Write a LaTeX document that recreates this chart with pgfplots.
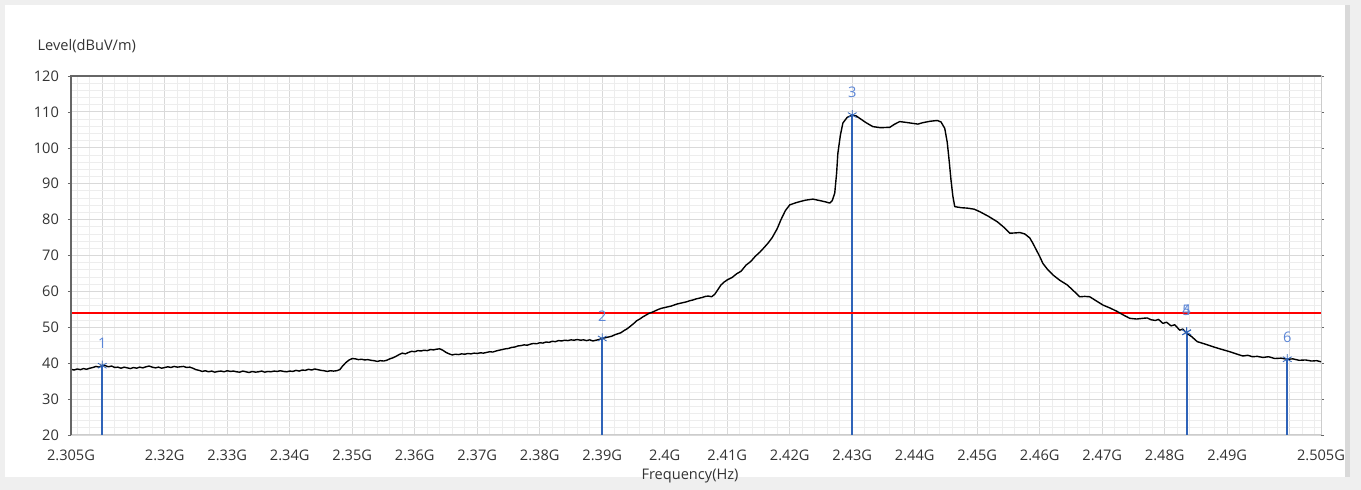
\documentclass[border=0pt]{standalone}
\usepackage{fontspec}
\setmainfont{Open Sans}
\usepackage{pgfplots}
\usepackage{pgfplotstable}
\pgfplotsset{compat=1.18}
\definecolor{mkline}{HTML}{2F63B8}
\definecolor{mklabel}{HTML}{5C86D6}
\definecolor{tickcol}{HTML}{333333}
\definecolor{gridmaj}{HTML}{D9D9D9}
\definecolor{gridmin}{HTML}{EDEDED}
\definecolor{framecol}{HTML}{EFEFEF}

% marker table: frequency (GHz), level (dBuV/m), marker number
\pgfplotstableread{
f lvl lab
2.3100 39.3 1
2.3900 46.9 2
2.4300 109.1 3
2.4835 48.6 4
2.4835 48.6 5
2.4996 41.1 6
}\markers

\pgfplotstableread{
f lvl
2.3050 38.3
2.3055 38.1
2.3060 38.4
2.3065 38.2
2.3070 38.5
2.3075 38.3
2.3080 38.6
2.3085 38.8
2.3090 39.1
2.3095 38.9
2.3100 39.4
2.3105 39.3
2.3110 39.0
2.3115 39.2
2.3120 38.8
2.3125 38.9
2.3130 38.6
2.3135 38.9
2.3140 38.7
2.3145 38.5
2.3150 38.8
2.3155 38.6
2.3160 38.9
2.3165 38.7
2.3170 39.0
2.3175 39.2
2.3180 38.9
2.3185 38.7
2.3190 38.9
2.3195 38.6
2.3200 38.8
2.3205 39.0
2.3210 38.8
2.3215 39.1
2.3220 38.9
2.3225 39.0
2.3230 39.1
2.3235 38.8
2.3240 38.9
2.3245 38.6
2.3250 38.2
2.3255 38.0
2.3260 37.7
2.3265 37.9
2.3270 37.6
2.3275 37.8
2.3280 37.5
2.3285 37.7
2.3290 37.8
2.3295 37.6
2.3300 37.9
2.3305 37.7
2.3310 37.8
2.3315 37.6
2.3320 37.5
2.3325 37.8
2.3330 37.6
2.3335 37.4
2.3340 37.7
2.3345 37.5
2.3350 37.6
2.3355 37.8
2.3360 37.5
2.3365 37.7
2.3370 37.6
2.3375 37.8
2.3380 37.7
2.3385 37.9
2.3390 37.7
2.3395 37.6
2.3400 37.8
2.3405 37.7
2.3410 38.0
2.3415 37.8
2.3420 38.1
2.3425 38.0
2.3430 38.3
2.3435 38.1
2.3440 38.4
2.3445 38.2
2.3450 38.0
2.3455 37.9
2.3460 37.7
2.3465 37.9
2.3470 37.8
2.3475 37.9
2.3480 38.2
2.3485 39.3
2.3490 40.2
2.3495 40.9
2.3500 41.3
2.3505 41.2
2.3510 41.0
2.3515 41.1
2.3520 40.9
2.3525 41.0
2.3530 40.8
2.3535 40.7
2.3540 40.5
2.3545 40.7
2.3550 40.6
2.3555 40.8
2.3560 41.2
2.3565 41.5
2.3570 41.9
2.3575 42.4
2.3580 42.8
2.3585 42.6
2.3590 43.0
2.3595 43.3
2.3600 43.2
2.3605 43.5
2.3610 43.4
2.3615 43.6
2.3620 43.5
2.3625 43.8
2.3630 43.7
2.3635 43.9
2.3640 44.0
2.3645 43.6
2.3650 43.0
2.3655 42.6
2.3660 42.3
2.3665 42.5
2.3670 42.4
2.3675 42.6
2.3680 42.5
2.3685 42.7
2.3690 42.6
2.3695 42.8
2.3700 42.7
2.3705 42.9
2.3710 42.8
2.3715 43.0
2.3720 43.2
2.3725 43.1
2.3730 43.4
2.3735 43.6
2.3740 43.8
2.3745 44.0
2.3750 44.1
2.3755 44.4
2.3760 44.5
2.3765 44.8
2.3770 44.9
2.3775 45.1
2.3780 45.0
2.3785 45.3
2.3790 45.5
2.3795 45.4
2.3800 45.7
2.3805 45.6
2.3810 45.9
2.3815 45.8
2.3820 46.1
2.3825 46.0
2.3830 46.3
2.3835 46.2
2.3840 46.4
2.3845 46.3
2.3850 46.5
2.3855 46.4
2.3860 46.6
2.3865 46.4
2.3870 46.5
2.3875 46.3
2.3880 46.5
2.3885 46.2
2.3890 46.4
2.3895 46.6
2.3900 46.9
2.3905 47.1
2.3910 47.3
2.3915 47.5
2.3920 47.9
2.3925 48.2
2.3930 48.5
2.3935 49.1
2.3940 49.6
2.3945 50.3
2.3950 51.0
2.3955 51.8
2.3960 52.3
2.3965 52.9
2.3970 53.4
2.3975 53.9
2.3980 54.2
2.3985 54.6
2.3990 55.0
2.3995 55.3
2.4000 55.5
2.4005 55.7
2.4010 55.9
2.4015 56.2
2.4020 56.5
2.4025 56.7
2.4030 56.9
2.4035 57.1
2.4040 57.4
2.4045 57.6
2.4050 57.9
2.4055 58.1
2.4060 58.3
2.4065 58.6
2.4070 58.7
2.4075 58.5
2.4080 59.2
2.4085 60.5
2.4090 61.8
2.4095 62.6
2.4100 63.2
2.4108 63.9
2.4115 64.9
2.4122 65.6
2.4130 67.3
2.4138 68.4
2.4145 69.8
2.4152 70.9
2.4160 72.4
2.4166 73.6
2.4172 75.0
2.4180 77.5
2.4186 80.0
2.4193 82.5
2.4200 84.1
2.4210 84.7
2.4216 85.0
2.4225 85.4
2.4237 85.7
2.4248 85.3
2.4258 84.9
2.4264 84.6
2.4268 85.3
2.4272 87.4
2.4275 93.0
2.4277 98.5
2.4281 103.5
2.4285 106.9
2.4292 108.5
2.4300 109.1
2.4306 108.9
2.4312 108.2
2.4322 107.0
2.4333 105.9
2.4345 105.6
2.4360 105.7
2.4368 106.6
2.4376 107.3
2.4385 107.1
2.4397 106.8
2.4405 106.6
2.4413 107.0
2.4425 107.4
2.4436 107.6
2.4442 107.2
2.4448 105.4
2.4452 101.5
2.4455 96.5
2.4458 91.0
2.4461 86.5
2.4464 83.6
2.4475 83.3
2.4484 83.2
2.4495 82.9
2.4504 82.2
2.4518 80.9
2.4532 79.4
2.4543 77.8
2.4552 76.2
2.4562 76.3
2.4568 76.4
2.4576 76.0
2.4584 74.9
2.4589 73.4
2.4600 69.7
2.4605 67.8
2.4613 66.0
2.4621 64.6
2.4632 63.1
2.4644 61.8
2.4655 60.0
2.4664 58.5
2.4672 58.6
2.4680 58.5
2.4690 57.4
2.4701 56.2
2.4712 55.4
2.4724 54.4
2.4734 53.4
2.4744 52.5
2.4755 52.3
2.4765 52.5
2.4772 52.6
2.4778 52.1
2.4785 51.9
2.4790 52.2
2.4797 51.1
2.4803 51.4
2.4810 50.4
2.4816 50.7
2.4824 49.2
2.4829 49.5
2.4834 48.5
2.4843 47.4
2.4852 46.0
2.4865 45.3
2.4877 44.6
2.4890 43.9
2.4904 43.2
2.4916 42.5
2.4925 42.0
2.4933 42.2
2.4940 41.8
2.4948 41.9
2.4957 41.6
2.4966 41.8
2.4976 41.3
2.4986 41.4
2.4996 41.1
2.5005 41.2
2.5015 40.8
2.5025 40.9
2.5035 40.6
2.5043 40.7
2.5050 40.4
}\trace

\begin{document}
\begin{tikzpicture}
% panel background (1px = 0.5pt, axis origin at pixel (71,435))
\fill[framecol] (-35.5pt,-27.5pt) rectangle (645pt,217.5pt);
\fill[white] (-33pt,-21pt) rectangle (637pt,215pt);
\fill[black!15] (637pt,-21pt) rectangle (639.5pt,215pt);
\useasboundingbox (-35.5pt,-27.5pt) rectangle (645pt,217.5pt);
\begin{axis}[
  at={(0,0)}, anchor=south west,
  scale only axis, width=625pt, height=179.5pt,
  xmin=2.305, xmax=2.505, ymin=20, ymax=120,
  xtick={2.305,2.31,2.32,2.33,2.34,2.35,2.36,2.37,2.38,2.39,2.40,2.41,2.42,2.43,2.44,2.45,2.46,2.47,2.48,2.49,2.50,2.505},
  xticklabels={2.305G,,2.32G,2.33G,2.34G,2.35G,2.36G,2.37G,2.38G,2.39G,2.4G,2.41G,2.42G,2.43G,2.44G,2.45G,2.46G,2.47G,2.48G,2.49G,,2.505G},
  minor xtick={2.306,2.308,...,2.504},
  ytick={20,30,...,120},
  minor ytick={22,24,...,118},
  grid=both,
  major grid style={gridmaj, line width=0.4pt},
  minor grid style={gridmin, line width=0.4pt},
  axis line style={draw=black!20, line width=0.5pt},
  xtick style={draw=none}, minor tick length=0pt,
  ytick style={draw=black!60}, major tick length=1.5pt, tick align=outside,
  tick label style={font=\fontsize{7.3}{9}\selectfont, color=tickcol},
  /pgf/number format/assume math mode=true,
  xticklabel style={yshift=-2.5pt},
  yticklabel style={xshift=-1pt},
  xlabel={Frequency(Hz)},
  xlabel style={font=\fontsize{7.3}{9}\selectfont, color=tickcol, at={(axis description cs:0.5,0)}, anchor=center, yshift=-20.5pt, xshift=-3pt},
  title={Level(dBuV/m)},
  title style={font=\fontsize{7.3}{9}\selectfont, color=tickcol, at={(axis description cs:0,1)}, anchor=west, xshift=-20.2pt, yshift=9pt},
  clip mode=individual,
]
% marker lines
\addplot[ycomb, mkline, line width=0.9pt, mark=none] table[x=f, y=lvl] {\markers};
% limit line
\addplot[red, line width=1pt] coordinates {(2.305,54) (2.505,54)};
% trace
\addplot[black, line width=0.7pt, line join=round] table[x=f, y=lvl] {\trace};
% marker symbols and numbers
\addplot[only marks, mark=asterisk, mark size=2.5pt, mkline,
  nodes near coords, point meta=explicit symbolic,
  every node near coord/.append style={font=\fontsize{7.3}{9}\selectfont, color=mklabel, anchor=south, yshift=5pt}]
  table[x=f, y=lvl, meta=lab] {\markers};
\draw[black!60, line width=0.6pt] (rel axis cs:0,0) -- (rel axis cs:0,1) -- (rel axis cs:1,1);
\end{axis}
\end{tikzpicture}
\end{document}
